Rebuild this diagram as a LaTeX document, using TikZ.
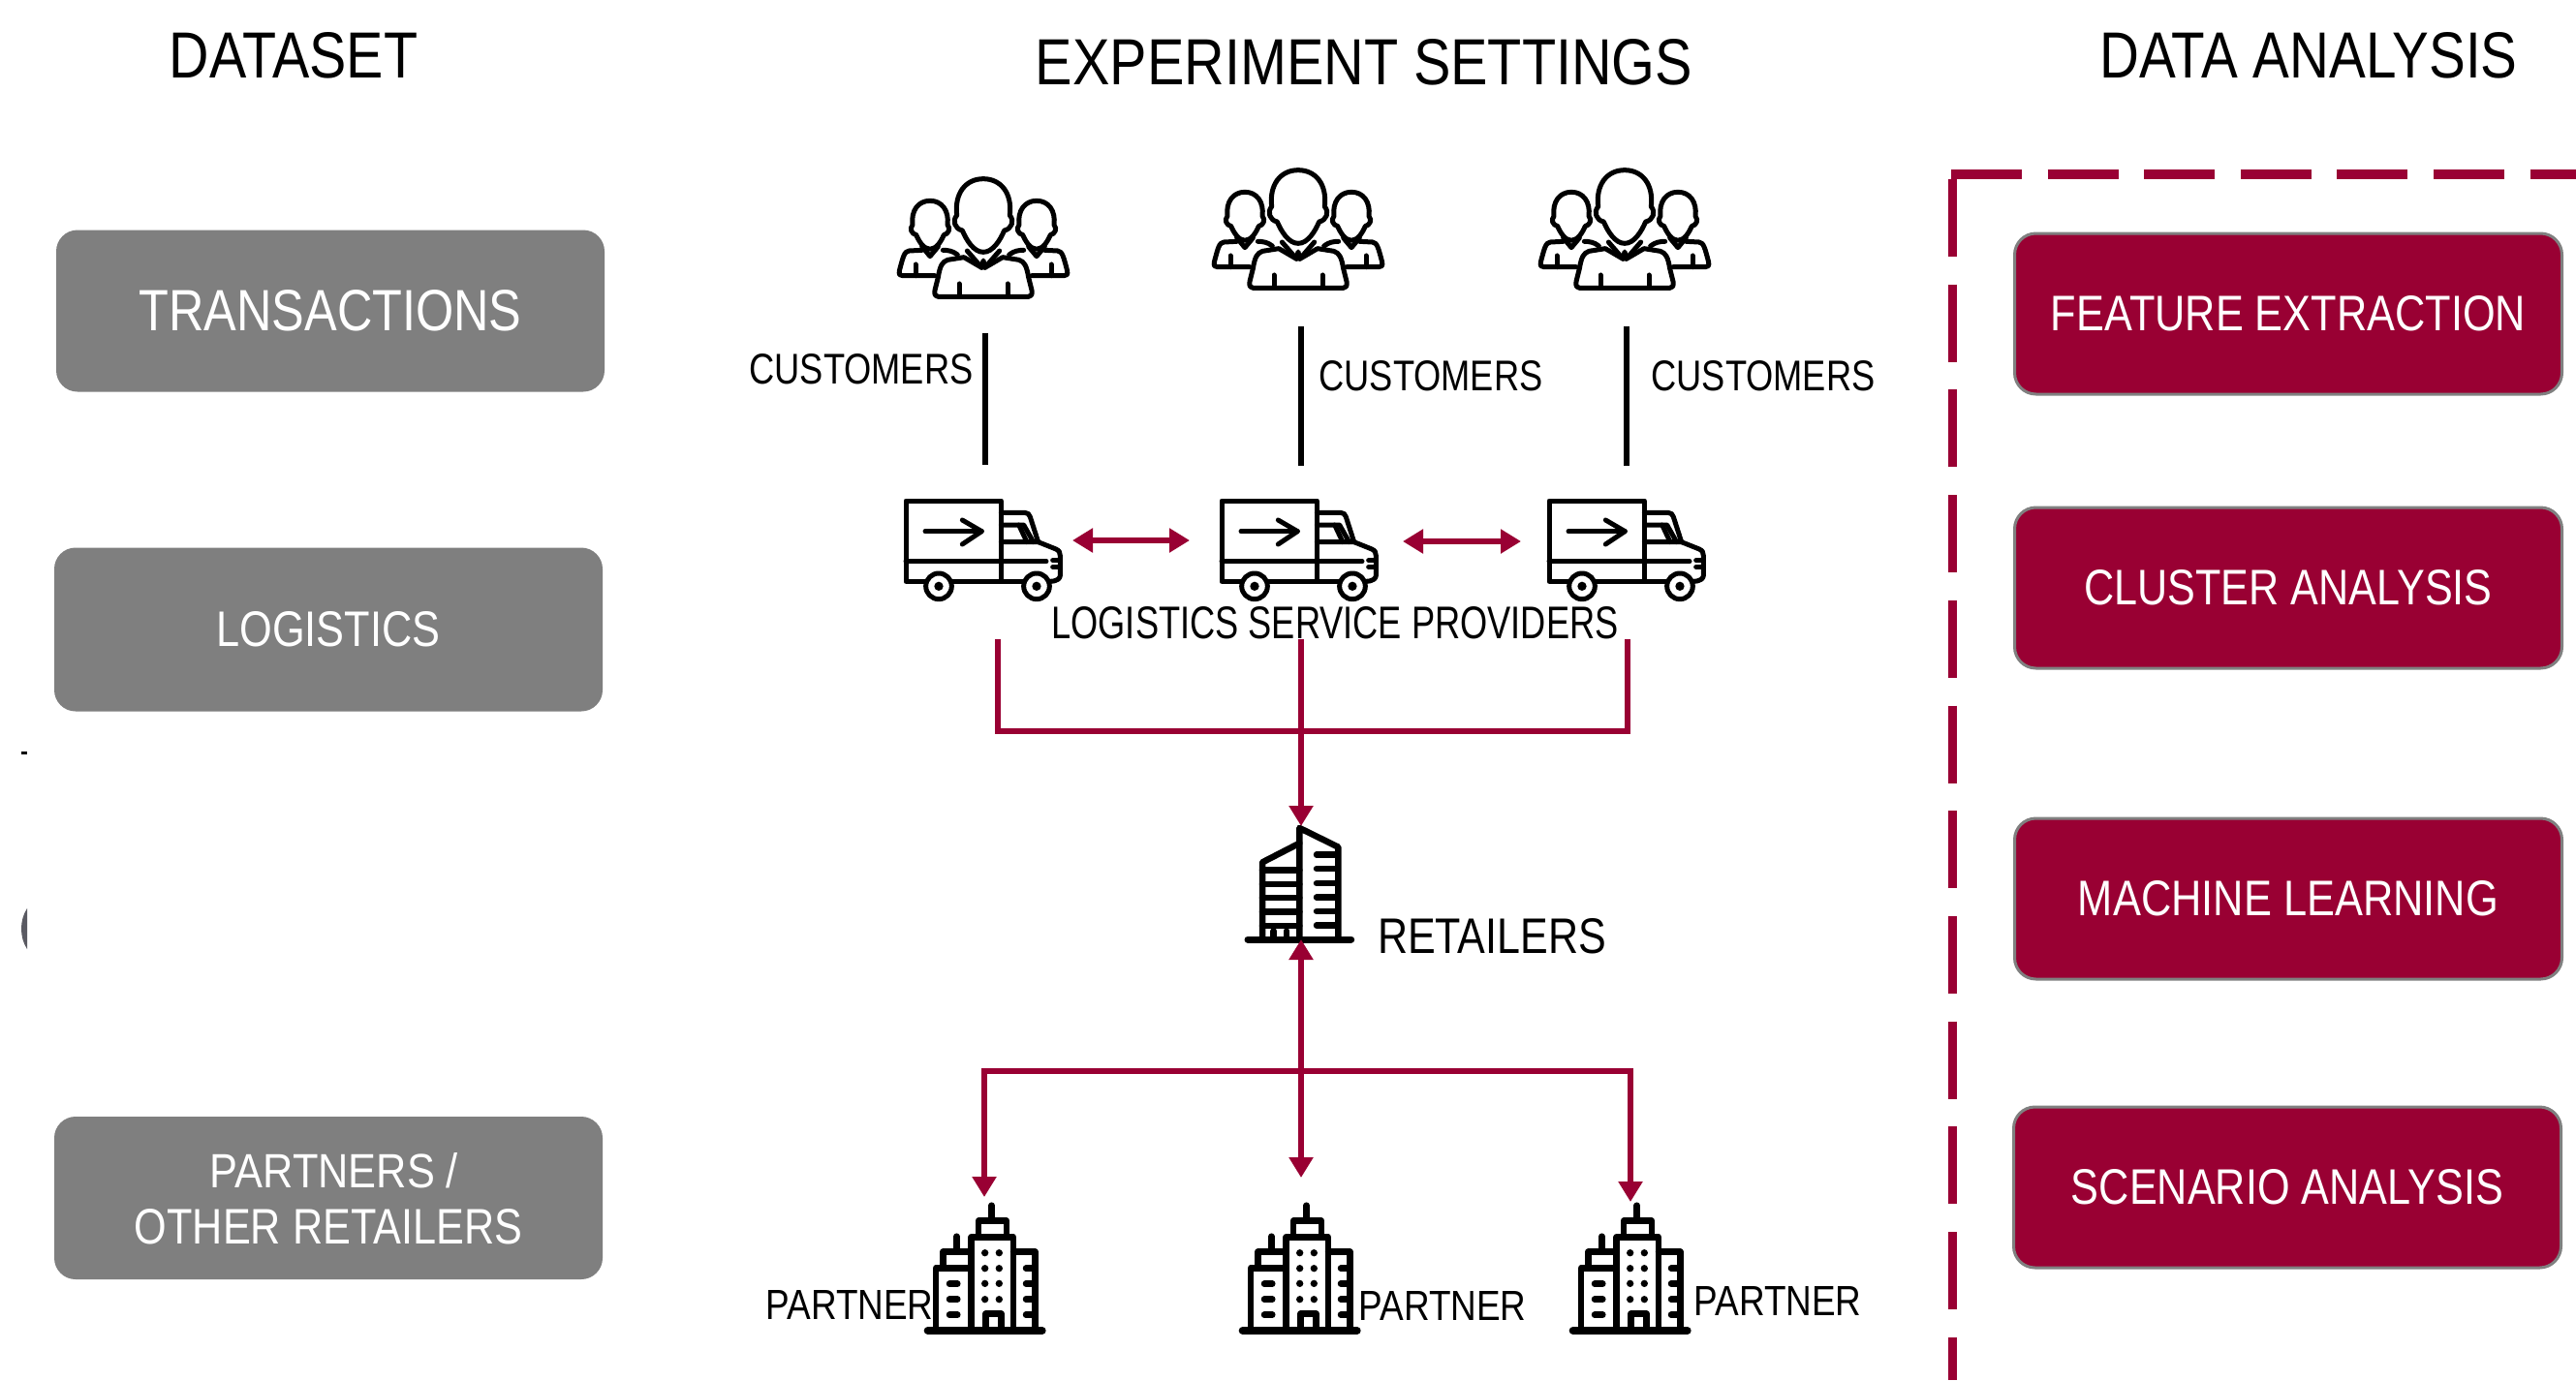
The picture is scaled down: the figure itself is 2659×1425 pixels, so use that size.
\documentclass[tikz,border=0pt]{standalone}
\usepackage{graphicx}
\usepackage{fontspec}
\setmainfont{Liberation Sans}
\usetikzlibrary{arrows.meta}
\definecolor{wine}{HTML}{990033}
\definecolor{boxgray}{HTML}{7F7F7F}
\definecolor{edgegray}{HTML}{808080}
\definecolor{stray}{HTML}{5A5A62}
\newcommand\fit[3]{\resizebox{#1pt}{#2pt}{#3}}
\tikzset{
  icon/.style={line width=5pt,line join=round,line cap=round,draw=black},
  heavy/.style={line width=6.5pt,line join=round,line cap=round,draw=black},
  lab/.style={inner sep=0pt,text=black},
  wlab/.style={inner sep=0pt,text=white},
  graybox/.style={draw=none,fill=boxgray,rounded corners=22pt},
  winebox/.style={draw=edgegray,line width=3pt,fill=wine,rounded corners=22pt},
  redline/.style={draw=wine,line width=6pt},
  redarrow/.style={redline,-{Triangle[length=21pt,width=24pt]}},
  redboth/.style={redline,{Triangle[length=21pt,width=24pt]}-{Triangle[length=21pt,width=24pt]}},
  blackline/.style={draw=black,line width=5.5pt},
  people/.pic={
    \begin{scope}[x=.3333pt,y=-.3333pt,icon]
      \foreach \s/\c in {1/0,.66/-165,.66/165}{
        \begin{scope}[shift={(\c,{(1-\s)*205})},x=\s*.3333pt,y=-\s*.3333pt]
          \draw[fill=white] (0,232) .. controls (30,232) and (52,195) .. (65,165)
            .. controls (88,160) and (97,135) .. (82,118)
            .. controls (90,50) and (55,5) .. (0,5)
            .. controls (-55,5) and (-90,50) .. (-82,118)
            .. controls (-97,135) and (-88,160) .. (-65,165)
            .. controls (-52,195) and (-30,232) .. (0,232);
        \end{scope}
      }
      \draw (-80,240) .. controls (-95,228) and (-110,226) .. (-125,226);
      \draw (-190,215) -- (-165,245) -- (-140,215);
      \draw (-190,226) -- (-230,228) .. controls (-245,230) and (-248,245) .. (-260,290) .. controls (-262,302) and (-258,305) .. (-250,305) -- (-150,305);
      \draw (-210,270) -- (-210,305);
      \draw (80,240) .. controls (95,228) and (110,226) .. (125,226);
      \draw (190,215) -- (165,245) -- (140,215);
      \draw (190,226) -- (230,228) .. controls (245,230) and (248,245) .. (260,290) .. controls (262,302) and (258,305) .. (250,305) -- (150,305);
      \draw (210,270) -- (210,305);
      \draw (-50,228) -- (-5,280) -- (0,258) -- (5,280) -- (50,228);
      \draw (-5,280) -- (-60,248) -- (-110,256) .. controls (-128,262) and (-134,275) .. (-140,310) -- (-150,350) .. controls (-152,365) and (-148,370) .. (-140,370)
        -- (140,370) .. controls (148,370) and (152,365) .. (150,350) -- (140,310) .. controls (134,275) and (128,262) .. (110,256) -- (60,248) -- (5,280);
      \draw (-75,330) -- (-75,370);
      \draw (75,330) -- (75,370);
    \end{scope}
  },
  truck/.pic={
    \begin{scope}[x=.3333pt,y=-.3333pt,icon]
      \draw (60,250) -- (0,250) -- (0,0) -- (295,0) -- (295,250);
      \draw (0,188) -- (435,188);
      \draw (145,250) -- (365,250);
      \draw (295,37) -- (368,37) .. controls (378,37) and (382,42) .. (385,50) -- (410,128) -- (295,128);
      \draw (295,75) -- (350,75) -- (375,128);
      \draw (350,75) -- (365,75) -- (395,128);
      \draw (410,128) -- (465,150) .. controls (475,155) and (478,160) .. (478,170) -- (478,232) .. controls (478,240) and (470,250) .. (445,250);
      \draw (478,185) -- (455,185);
      \draw (478,205) -- (455,205);
      \draw (60,95) -- (235,95);
      \draw (175,60) -- (235,95) -- (175,135);
      \draw (102,265) circle[radius=40];
      \draw (405,265) circle[radius=40];
      \fill (102,265) circle[radius=14];
      \fill (405,265) circle[radius=14];
    \end{scope}
  },
  retailbuilding/.pic={
    \begin{scope}[x=.3333pt,y=-.394pt,heavy]
      \draw[line width=7pt] (-165,0) -- (155,0);
      \draw (-5,0) -- (-5,-292) -- (115,-242) -- (115,0);
      \draw (-120,0) -- (-120,-202) -- (-5,-252);
      \foreach \yy in {-182,-145,-109,-72,-35} \draw (-120,\yy) -- (-5,\yy);
      \foreach \yy in {-222,-185,-147,-110,-74,-37} \draw (48,\yy) -- (110,\yy);
      \draw (-85,-22) -- (-85,0);
      \draw (-45,-22) -- (-45,0);
    \end{scope}
  },
  partnerbuilding/.pic={
    \begin{scope}[x=.3333pt,y=-.3333pt,heavy]
      \draw[line width=8pt] (8,0) -- (362,0);
      \draw (143,0) -- (143,-290) -- (273,-290) -- (273,0);
      \draw (165,-290) -- (165,-340) -- (252,-340) -- (252,-290);
      \draw (206,-340) -- (206,-388);
      \draw (33,0) -- (33,-194) -- (143,-194);
      \draw (55,-194) -- (55,-244) -- (143,-244);
      \draw (97,-244) -- (97,-292);
      \draw (273,-244) -- (340,-244) -- (340,0);
      \foreach \yy in {-145,-97,-49} \draw (75,\yy) -- (100,\yy);
      \foreach \yy in {-241,-193,-146,-97} {
        \fill (185,\yy) circle[radius=11];
        \fill (229,\yy) circle[radius=11];
      }
      \draw (187,0) -- (187,-52) -- (236,-52) -- (236,0);
      \foreach \yy in {-193,-146,-97,-49} \draw (312,\yy) -- (340,\yy);
    \end{scope}
  }
}
\begin{document}
\begin{tikzpicture}[x=1pt,y=-1pt]
\useasboundingbox (0,0) rectangle (2659,1425);
\fill[white] (0,0) rectangle (2659,1425);

% headings
\node[lab] (hdata) at (303,57) {\fit{256}{47}{DATASET}};
\node[lab] (hexp) at (1408,64) {\fit{678}{47}{EXPERIMENT SETTINGS}};
\node[lab] (hana) at (2383,57) {\fit{431}{47}{DATA ANALYSIS}};

% dataset boxes
\node[graybox,minimum width=566pt,minimum height=167pt,wlab] (trans) at (341,321) {\fit{395}{42}{TRANSACTIONS}};
\node[graybox,minimum width=566pt,minimum height=169pt,wlab] (logi) at (339,650) {\fit{231}{36}{LOGISTICS}};
\node[graybox,minimum width=566pt,minimum height=168pt,inner sep=0pt] (part) at (339,1237) {};
\node[wlab] (part1) at (345,1209) {\fit{256}{36}{PARTNERS /}};
\node[wlab] (part2) at (339,1267) {\fit{400}{36}{OTHER RETAILERS}};

% stray marks at the left edge
\fill[black] (22,776) rectangle (28,778.5);
\fill[stray] (28,938) .. controls (20,950) and (20,968) .. (28,980) -- cycle;

% analysis frame
\coordinate (fcorner) at (2015,180);
\coordinate (fright) at (2659,180);
\coordinate (fbottom) at (2015,1425);
\draw[draw=wine,line width=9.5pt,dash pattern=on 73pt off 26.6pt] ([xshift=-1pt]fcorner) -- (fright);
\draw[draw=wine,line width=9pt,dash pattern=on 80pt off 28.7pt] ([yshift=-5pt]fcorner) -- (fbottom);

% analysis boxes
\node[winebox,minimum width=565pt,minimum height=166pt,wlab] (feat) at (2362,324) {\fit{490}{36}{FEATURE EXTRACTION}};
\node[winebox,minimum width=565pt,minimum height=166pt,wlab] (clus) at (2362,607) {\fit{421}{36}{CLUSTER ANALYSIS}};
\node[winebox,minimum width=565pt,minimum height=166pt,wlab] (mach) at (2362,928) {\fit{434}{36}{MACHINE LEARNING}};
\node[winebox,minimum width=565pt,minimum height=166pt,wlab] (scen) at (2361,1226) {\fit{446}{36}{SCENARIO ANALYSIS}};

% icons
\pic at (1015,183) {people};
\pic at (1340,174) {people};
\pic at (1677,174) {people};
\pic at (935,517) {truck};
\pic at (1261,517) {truck};
\pic at (1599,517) {truck};
\pic at (1343,970) {retailbuilding};
\pic at (955,1374) {partnerbuilding};
\pic at (1280,1374) {partnerbuilding};
\pic at (1621,1374) {partnerbuilding};

% customer links
\coordinate (c1a) at (1017,344); \coordinate (c1b) at (1017,480);
\coordinate (c2a) at (1343,337); \coordinate (c2b) at (1343,481);
\coordinate (c3a) at (1679,337); \coordinate (c3b) at (1679,481);
\draw[blackline] (c1a) -- (c1b);
\draw[blackline] (c2a) -- (c2b);
\draw[blackline] (c3a) -- (c3b);

% truck links
\coordinate (ta) at (1107,558); \coordinate (tb) at (1228,558);
\coordinate (tc) at (1448,559); \coordinate (td) at (1570,559);
\draw[redboth] (ta) -- (tb);
\draw[redboth] (tc) -- (td);

% logistics to retailer
\coordinate (l1) at (1030,660); \coordinate (l2) at (1343,660); \coordinate (l3) at (1680,660);
\coordinate (lbar) at (1343,755);
\coordinate (rtop) at (1343,853);
\draw[redline,line join=miter] (l1) |- (lbar) -| (l3);
\draw[redarrow] (l2) -- (rtop);

% retailer to partners
\coordinate (rbase) at (1343,970);
\coordinate (pbar) at (1343,1106);
\coordinate (p1) at (1016,1236); \coordinate (p2) at (1343,1216); \coordinate (p3) at (1683,1241);
\draw[redboth] (rbase) -- (p2);
\draw[redarrow] (pbar) -| (p1);
\draw[redarrow] (pbar) -| (p3);

% labels
\node[lab] (cu1) at (889,381) {\fit{231}{31}{CUSTOMERS}};
\node[lab] (cu2) at (1477,388) {\fit{231}{31}{CUSTOMERS}};
\node[lab] (cu3) at (1820,388) {\fit{231}{31}{CUSTOMERS}};
\node[lab] (lsp) at (1378,643) {\fit{585}{33}{LOGISTICS SERVICE PROVIDERS}};
\node[lab] (ret) at (1540,967) {\fit{236}{36}{RETAILERS}};
\node[lab] (pa1) at (877,1347) {\fit{173}{30}{PARTNER}};
\node[lab] (pa2) at (1489,1348) {\fit{173}{30}{PARTNER}};
\node[lab] (pa3) at (1835,1343) {\fit{173}{30}{PARTNER}};
\end{tikzpicture}
\end{document}
